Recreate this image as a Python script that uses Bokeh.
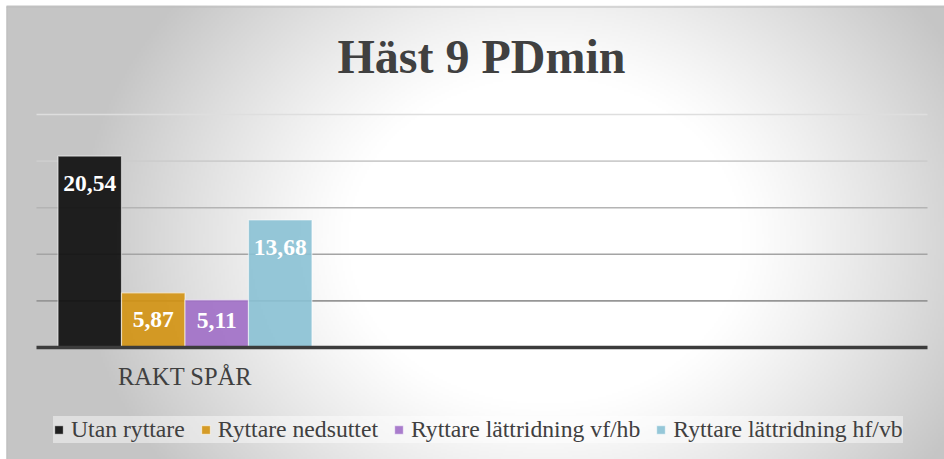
import numpy as np
from bokeh.plotting import figure
from bokeh.models import Range1d, Legend, LegendItem
from bokeh.core.properties import value
from bokeh.embed import file_html
from bokeh.resources import INLINE

# ---------------- data ----------------
title_text = "Häst 9 PDmin"
categories = ["RAKT SPÅR", "", ""]
series_names = ["Utan ryttare", "Ryttare nedsuttet",
                "Ryttare lättridning vf/hb", "Ryttare lättridning hf/vb"]
series_values = [20.54, 5.87, 5.11, 13.68]
grid_ticks = [5, 10, 15, 20, 25]

# ---------------- styles ----------------
bar_colors = ["#0b0b0b", "#D39211", "#A06EC6", "#89C1D4"]
grid_colors = ["#969696", "#a4a4a4", "#b4b4b4", "#cdcdcd", "#dedede"]
SERIF = value("Liberation Serif")
TEXT_COLOR = "#404040"

# canvas (page pixels; Bokeh's page template has no body margin)
W, H = 944, 459
CHART_X0, CHART_Y0 = 6, 6          # chart-area frame corner in the page

PX_LEFT, PX_RIGHT = 36, 927
PX_BASE, PX_TOP, VMAX = 347, 114, 25
NCAT = len(categories)
cat_px = (PX_RIGHT - PX_LEFT) / NCAT
val_px = (PX_BASE - PX_TOP) / VMAX


def cx(xr):
    return (xr - PX_LEFT) / cat_px


def cy(yr):
    return (PX_BASE - yr) / val_px


x0, x1 = cx(0), cx(W)
y0, y1 = cy(H), cy(0)

p = figure(width=W, height=H, output_backend="svg", toolbar_location=None,
           x_range=Range1d(x0, x1), y_range=Range1d(y0, y1),
           x_axis_location=None, y_axis_location=None, min_border=0)
p.xgrid.visible = False
p.ygrid.visible = False
p.outline_line_color = None
p.background_fill_color = "white"
p.border_fill_color = "white"

# ---------------- background radial gradient ----------------
S = 2
hh, ww = (H - CHART_Y0) // S + 1, (W - CHART_X0) // S + 1
ys = H - (np.arange(hh) + 0.5) * S
xs = CHART_X0 + (np.arange(ww) + 0.5) * S
XX, YY = np.meshgrid(xs, ys)
t = np.sqrt(((XX - 545) / 470.0) ** 2 + ((YY - 240) / 390.0) ** 2)
f = np.clip((t - 0.42) / 0.58, 0, 1) ** 1.15
g = (255 - 58 * f).astype(np.uint32)
img = (255 << 24) | (g << 16) | (g << 8) | g
p.image_rgba(image=[img.astype(np.uint32)], x=cx(CHART_X0), y=cy(H),
             dw=cx(CHART_X0 + ww * S) - cx(CHART_X0), dh=cy(H - hh * S) - cy(H))

# chart-area border (left and top edges visible in the picture)
p.segment(x0=[cx(CHART_X0 + 0.5), cx(CHART_X0)], x1=[cx(CHART_X0 + 0.5), cx(W)],
          y0=[cy(CHART_Y0), cy(CHART_Y0 + 0.5)], y1=[cy(H), cy(CHART_Y0 + 0.5)],
          line_color="#bdbdbd", line_width=1)

# ---------------- gridlines ----------------
p.segment(x0=[0] * len(grid_ticks), x1=[NCAT] * len(grid_ticks),
          y0=grid_ticks, y1=grid_ticks, line_color=grid_colors, line_width=1.6)

# ---------------- bars ----------------
nser = len(series_values)
group_w = 0.855
bw = group_w / nser
renderers = []
for i, (name, v, c) in enumerate(zip(series_names, series_values, bar_colors)):
    xpos = 0.5 + (i - (nser - 1) / 2) * bw
    r = p.vbar(x=[xpos], top=[v], bottom=0, width=bw, fill_color=c, fill_alpha=0.9,
               line_color="white", line_alpha=0.55, line_width=1.2)
    renderers.append((name, r))

# category axis line
p.segment(x0=[0], x1=[NCAT], y0=[0], y1=[0], line_color="#3c3c3c", line_width=3.5)

# data labels
lab_x = [0.5 + (i - (nser - 1) / 2) * bw for i in range(nser)]
lab_y = [max(v - 2.9, 2.9) for v in series_values]
lab_t = [f"{v:.2f}".replace(".", ",") for v in series_values]
p.text(x=lab_x, y=lab_y, text=lab_t, text_font=SERIF, text_font_style="bold",
       text_font_size="23.5px", text_color="white", text_align="center",
       text_baseline="middle")

# category label
p.text(x=[0.5], y=[cy(376)], text=[categories[0]], text_font=SERIF,
       text_font_size="24.5px", text_color=TEXT_COLOR, text_align="center",
       text_baseline="middle")

# title
p.text(x=[cx(481)], y=[cy(56)], text=[title_text], text_font=SERIF,
       text_font_style="bold", text_font_size="48px", text_color=TEXT_COLOR,
       text_align="center", text_baseline="middle")

# ---------------- legend ----------------
legend = Legend(items=[LegendItem(label=n, renderers=[r]) for n, r in renderers],
                orientation="horizontal",
                location=(53, H - 443),
                label_text_font="Liberation Serif", label_text_font_size="23.7px",
                label_text_color=TEXT_COLOR, glyph_width=11, glyph_height=11,
                label_standoff=7, spacing=15, padding=9, margin=0, label_height=25,
                background_fill_color="white", background_fill_alpha=0.45,
                border_line_color=None)
p.add_layout(legend)

open("out.html", "w").write(file_html(p, INLINE))
